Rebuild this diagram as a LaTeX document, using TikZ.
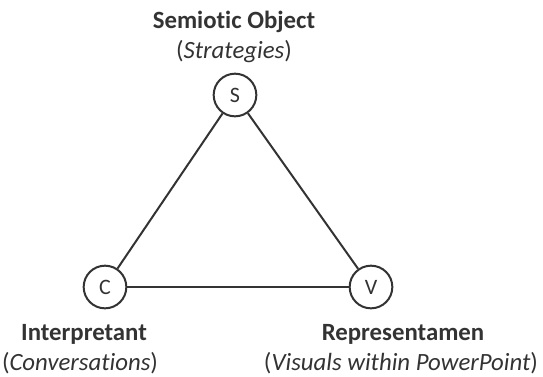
\documentclass[tikz,border=0pt]{standalone}
\usepackage{fontspec}
\setmainfont{Carlito}[Ligatures=NoCommon]
\usetikzlibrary{positioning}
\definecolor{inkgray}{HTML}{333333}

\begin{document}
\begin{tikzpicture}[x=0.75pt,y=-0.75pt,
			vertex/.style={
				draw=inkgray,
				circle,
				line width=1.5pt,
				minimum size=32pt,
				inner sep=0pt,
				text=inkgray,
				font=\fontsize{16.5}{19}\selectfont
			},
			role/.style={
				anchor=base,
				inner sep=0pt,
				text=inkgray,
				font=\fontsize{18.6}{22.5}\selectfont\bfseries
			},
			gloss/.style={
				anchor=base,
				inner sep=0pt,
				text=inkgray,
				font=\fontsize{18.6}{22.5}\selectfont
			}]
			
			\useasboundingbox (0,0) rectangle (543,376);
			
			\node[vertex] (s) at (235,95){S};
			
			\node[vertex] (c) at (105,287){C};
			
			\node[vertex] (v) at (371,287){V};
			
			\draw[inkgray,line width=1.5pt](s)--(c);
			
			\draw[inkgray,line width=1.5pt](c)--(v);
			
			\draw[inkgray,line width=1.5pt](v)--(s);
			
			\node[role] (sRole) at (234,28){Semiotic Object};
			
			\node[gloss] (sGloss) at (234,58){(\textit{Strategies})};
			
			\node[role] (cRole) at (84,340){Interpretant};
			
			\node[gloss] (cGloss) at (80,370){(\textit{Conversations})};
			
			\node[role] (vRole) at (403,340){Representamen};
			
			\node[gloss] (vGloss) at (401,370){(\textit{Visuals within PowerPoint})};
			
		\end{tikzpicture}
\end{document}
